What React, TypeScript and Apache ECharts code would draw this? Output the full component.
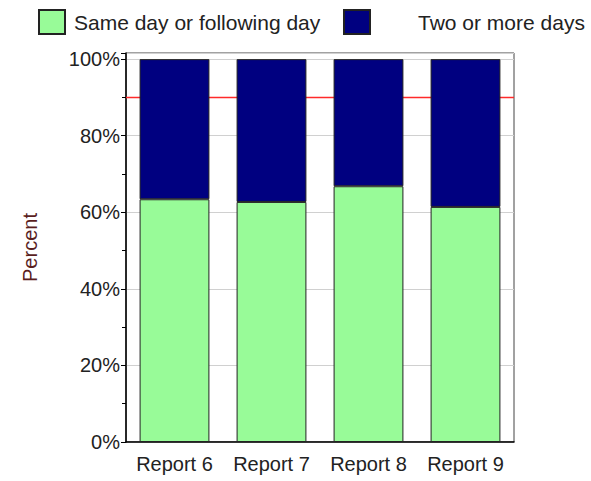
import React, { useEffect, useRef } from "react";
import * as echarts from "echarts";

const categories = ["Report 6", "Report 7", "Report 8", "Report 9"];
const sameDay = [63.4, 62.7, 66.8, 61.4];
const twoOrMore = sameDay.map((v) => +(100 - v).toFixed(1));
const targetLine = 90;
const seriesNames = ["Same day or following day", "Two or more days"];

export default function App() {
  const ref = useRef<HTMLDivElement>(null);
  useEffect(() => {
    if (!ref.current) return;
    const chart = echarts.init(ref.current, null, { renderer: "svg" });
    const font = "Liberation Sans";
    chart.setOption({
      animation: false,
      backgroundColor: "#ffffff",
      legend: [
        {
          data: [seriesNames[0]],
          left: 38,
          top: 9,
          padding: 0,
          icon: "rect",
          itemWidth: 26,
          itemHeight: 24,
          textStyle: { fontFamily: font, fontSize: 21, color: "#222", padding: [0, 0, 0, 4] },
        },
        {
          data: [seriesNames[1]],
          left: 343,
          top: 9,
          padding: 0,
          icon: "rect",
          itemWidth: 26,
          itemHeight: 24,
          textStyle: { fontFamily: font, fontSize: 21, color: "#222", padding: [0, 0, 0, 43] },
        },
      ],
      grid: {
        left: 126,
        right: 77,
        top: 53,
        bottom: 39,
        show: true,
        borderColor: "#444",
        borderWidth: 1,
        containLabel: false,
      },
      xAxis: [
        {
          type: "category",
          data: categories,
          axisLine: { lineStyle: { color: "#000", width: 1.5 } },
          axisTick: { show: false },
          axisLabel: { fontFamily: font, fontSize: 20, color: "#222", margin: 12, interval: 0 },
        },
        {
          type: "value",
          min: 0,
          max: 1,
          show: false,
          position: "top",
        },
      ],
      yAxis: {
        type: "value",
        min: 0,
        max: 101.6,
        interval: 20,
        name: "Percent",
        nameLocation: "middle",
        nameGap: 86,
        nameTextStyle: { fontFamily: font, fontSize: 20, color: "#5a1e1e" },
        axisLine: { show: true, lineStyle: { color: "#000", width: 1.5 } },
        axisTick: { show: true, length: 5, lineStyle: { color: "#000" } },
        minorTick: { show: true, splitNumber: 2, length: 4, lineStyle: { color: "#000" } },
        axisLabel: {
          fontFamily: font,
          fontSize: 20,
          color: "#222",
          margin: 6,
          formatter: (v: number) => (v % 20 === 0 ? v + "%" : ""),
        },
        splitLine: { lineStyle: { color: "#d0d0d0" } },
      },
      series: [
        {
          name: seriesNames[0],
          type: "bar",
          stack: "total",
          data: sameDay,
          barCategoryGap: "28%",
          itemStyle: { color: "#98fb98", borderColor: "#222", borderWidth: 1 },
          z: 3,
        },
        {
          name: seriesNames[1],
          type: "bar",
          stack: "total",
          data: twoOrMore,
          itemStyle: { color: "#000080", borderColor: "#222", borderWidth: 1 },
          z: 3,
        },
        {
          name: "target",
          type: "line",
          xAxisIndex: 1,
          data: [
            [0, targetLine],
            [1, targetLine],
          ],
          symbol: "none",
          silent: true,
          z: 1,
          color: "#ff2a2a",
          lineStyle: { color: "#ff2a2a", width: 1.5 },
          itemStyle: { color: "#ff2a2a" },
        },
      ],
    });
    return () => chart.dispose();
  }, []);
  return (
    <div
      ref={ref}
      style={{ position: "fixed", left: 0, top: 0, width: 591, height: 481 }}
    />
  );
}
